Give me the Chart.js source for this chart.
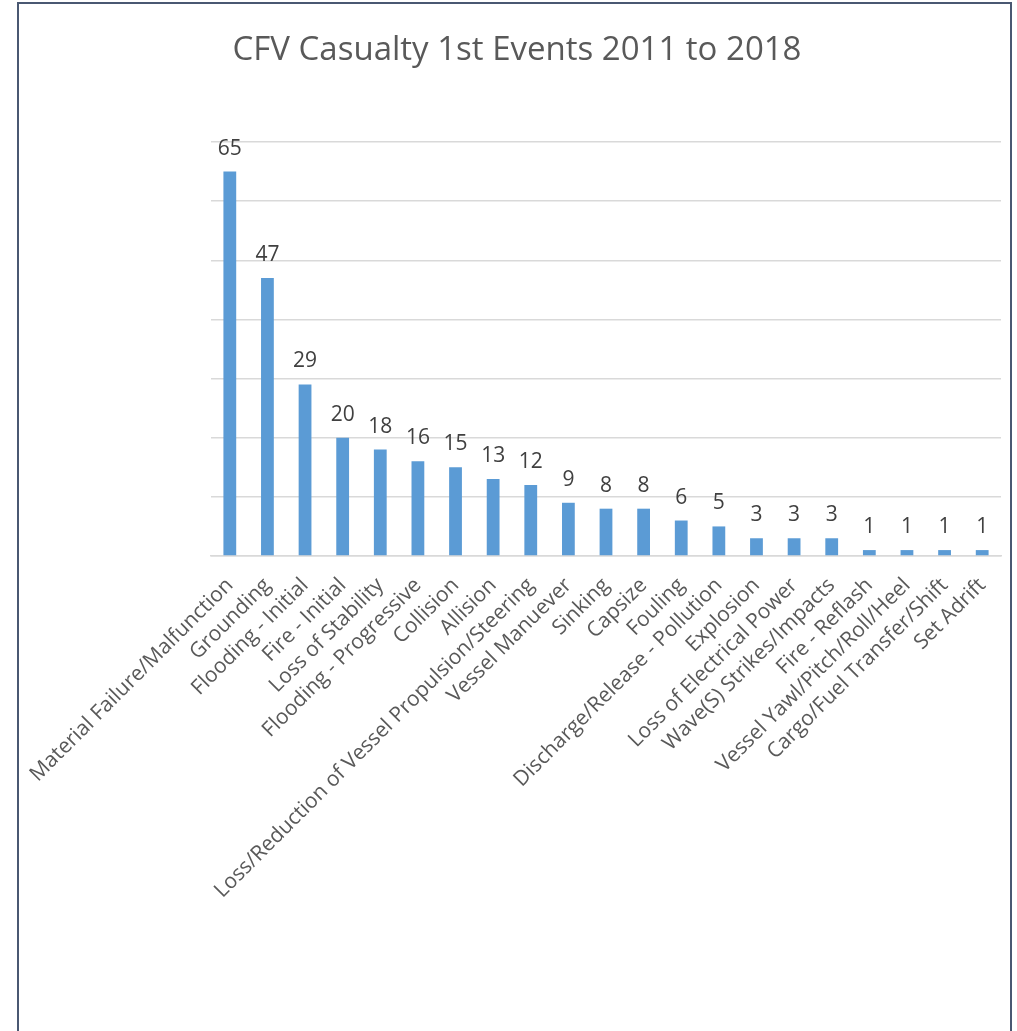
<!DOCTYPE html>
<html>
<head>
<meta charset="utf-8">
<script src="https://cdn.jsdelivr.net/npm/chart.js@4.4.0/dist/chart.umd.min.js"></script>
<style>
html,body{margin:0;padding:0;background:#fff;overflow:hidden;}
#wrap{position:absolute;left:0;top:0;width:1017px;height:1031px;}
#frame{position:absolute;left:17px;top:2px;width:991px;height:1100px;border:2px solid #4a5872;box-sizing:content-box;}
canvas{position:absolute;left:0;top:0;}
</style>
</head>
<body>
<div id="wrap">
<div id="frame"></div>
<canvas id="c" width="1017" height="1031"></canvas>
</div>
<script>
const categories = [
  "Material Failure/Malfunction","Grounding","Flooding - Initial","Fire - Initial",
  "Loss of Stability","Flooding - Progressive","Collision","Allision",
  "Loss/Reduction of Vessel Propulsion/Steering","Vessel Manuever","Sinking","Capsize",
  "Fouling","Discharge/Release - Pollution","Explosion","Loss of Electrical Power",
  "Wave(S) Strikes/Impacts","Fire - Reflash","Vessel Yawl/Pitch/Roll/Heel",
  "Cargo/Fuel Transfer/Shift","Set Adrift"
];
const values = [65,47,29,20,18,16,15,13,12,9,8,8,6,5,3,3,3,1,1,1,1];
const title = "CFV Casualty 1st Events 2011 to 2018";
const yMin = 0, yMax = 70, yStep = 10;

const valueLabels = {
  id: 'valueLabels',
  afterDatasetsDraw(chart) {
    const ctx = chart.ctx;
    const meta = chart.getDatasetMeta(0);
    ctx.save();
    ctx.font = '21px "Open Sans"';
    ctx.fillStyle = '#404040';
    ctx.textAlign = 'center';
    ctx.textBaseline = 'alphabetic';
    meta.data.forEach((bar, i) => {
      ctx.fillText(String(values[i]), bar.x, bar.y - 17);
    });
    ctx.restore();
  }
};

const centeredTitle = {
  id: 'centeredTitle',
  afterDraw(chart) {
    const ctx = chart.ctx;
    ctx.save();
    ctx.font = '33px "Open Sans"';
    ctx.fillStyle = '#595959';
    ctx.textAlign = 'center';
    ctx.textBaseline = 'alphabetic';
    ctx.fillText(title, 517, 60);
    ctx.restore();
  }
};

new Chart(document.getElementById('c'), {
  type: 'bar',
  data: {
    labels: categories,
    datasets: [{
      data: values,
      backgroundColor: '#5b9bd5',
      borderWidth: 0,
      barPercentage: 0.34,
      categoryPercentage: 1.0
    }]
  },
  options: {
    responsive: false,
    animation: false,
    devicePixelRatio: 1,
    layout: { padding: { left: 211, right: 16, top: 142, bottom: 0 } },
    plugins: {
      legend: { display: false },
      tooltip: { enabled: false },
      title: { display: false }
    },
    scales: {
      x: {
        grid: { display: false },
        border: { display: true, color: '#d9d9d9', width: 1.5 },
        ticks: {
          color: '#595959',
          font: { family: '"Open Sans"', size: 21 },
          minRotation: 45, maxRotation: 45,
          autoSkip: false,
          padding: 9
        },
        afterFit(scale) { scale.height = 475; }
      },
      y: {
        min: yMin, max: yMax,
        ticks: { display: false, stepSize: yStep },
        grid: { color: '#d9d9d9', lineWidth: 1.5, drawTicks: false },
        border: { display: false },
        afterFit(scale) { scale.width = 0; }
      }
    }
  },
  plugins: [valueLabels, centeredTitle]
});
</script>
</body>
</html>
